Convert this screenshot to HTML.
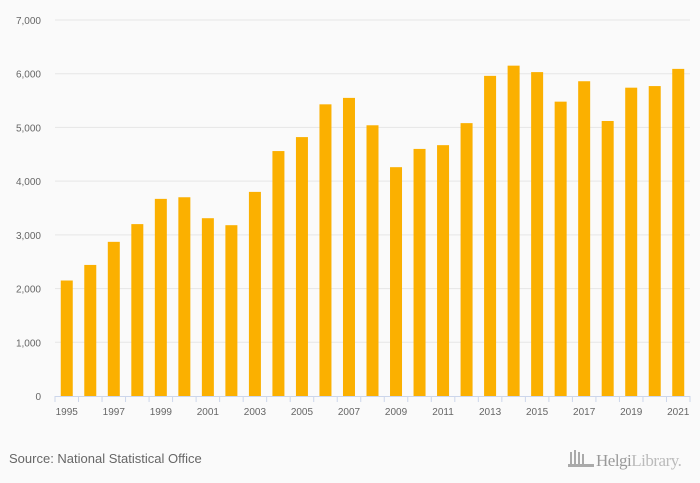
<!DOCTYPE html>
<html><head><meta charset="utf-8"><style>
body{margin:0;background:#fafafa;font-family:"Liberation Sans",sans-serif;}
svg{display:block}
</style></head><body>
<svg width="700" height="483">
<g id="grid"></g><g id="bars"></g><g id="axis"></g>
<text x="9" y="463" font-size="13" fill="#666">Source: National Statistical Office</text>
<g>
<rect x="570" y="452" width="2" height="14" fill="#aaa"/><rect x="574" y="450" width="2" height="16" fill="#aaa"/><rect x="578" y="452" width="2" height="14" fill="#aaa"/><rect x="582" y="454" width="2" height="12" fill="#aaa"/><rect x="568" y="464" width="26" height="3" fill="#aaa"/>
<text x="596" y="466" font-size="17" fill="#999" font-family="Liberation Serif,serif" letter-spacing="-0.5">Helgi<tspan fill="#bbb">Library.</tspan></text>
</g>
</svg>
<script>
const years=[1995,1996,1997,1998,1999,2000,2001,2002,2003,2004,2005,2006,2007,2008,2009,2010,2011,2012,2013,2014,2015,2016,2017,2018,2019,2020,2021];
const values=[2150,2440,2870,3200,3670,3700,3310,3180,3800,4560,4820,5430,5550,5040,4260,4600,4670,5080,5960,6150,6030,5480,5860,5120,5740,5770,6090];
const yTicks=[0,1000,2000,3000,4000,5000,6000,7000];
const NS="http://www.w3.org/2000/svg";
const x0=55,x1=690,yb=396,yt=20,ymax=7000;
const bw=(x1-x0)/years.length;
const y=v=>yb-(v/ymax)*(yb-yt);
const xc=i=>x0+bw*(i+0.5);
function mk(t,a,p){const e=document.createElementNS(NS,t);for(const k in a)e.setAttribute(k,a[k]);p.appendChild(e);return e;}
const g=document.getElementById('grid'),b=document.getElementById('bars'),ax=document.getElementById('axis');
yTicks.forEach(v=>{
 if(v>0){const l=mk('line',{x1:x0,x2:x1,y1:y(v),y2:y(v),stroke:'#e6e6e6','stroke-width':1},g);
 
 }
 const t=mk('text',{x:41,y:y(v)+4,'font-size':10,fill:'#666','text-anchor':'end'},g);t.textContent=v.toLocaleString('en-US');
 
 
});
values.forEach((v,i)=>{
 const r=mk('rect',{x:xc(i)-6,y:y(v),width:12,height:yb-y(v),fill:'#fbb000'},b);
 
 
});
const al=mk('line',{x1:x0,x2:x1,y1:yb+0.5,y2:yb+0.5,stroke:'#ccd6eb'},ax);


for(let i=0;i<=years.length;i++){mk('line',{x1:x0+bw*i,x2:x0+bw*i,y1:yb,y2:yb+6,stroke:'#ccd6eb'},ax);}
years.forEach((yr,i)=>{if(i%2===0){const t=mk('text',{x:xc(i),y:yb+19,'font-size':10,fill:'#666','text-anchor':'middle'},ax);t.textContent=yr;
 
 }});
</script>
</body></html>
